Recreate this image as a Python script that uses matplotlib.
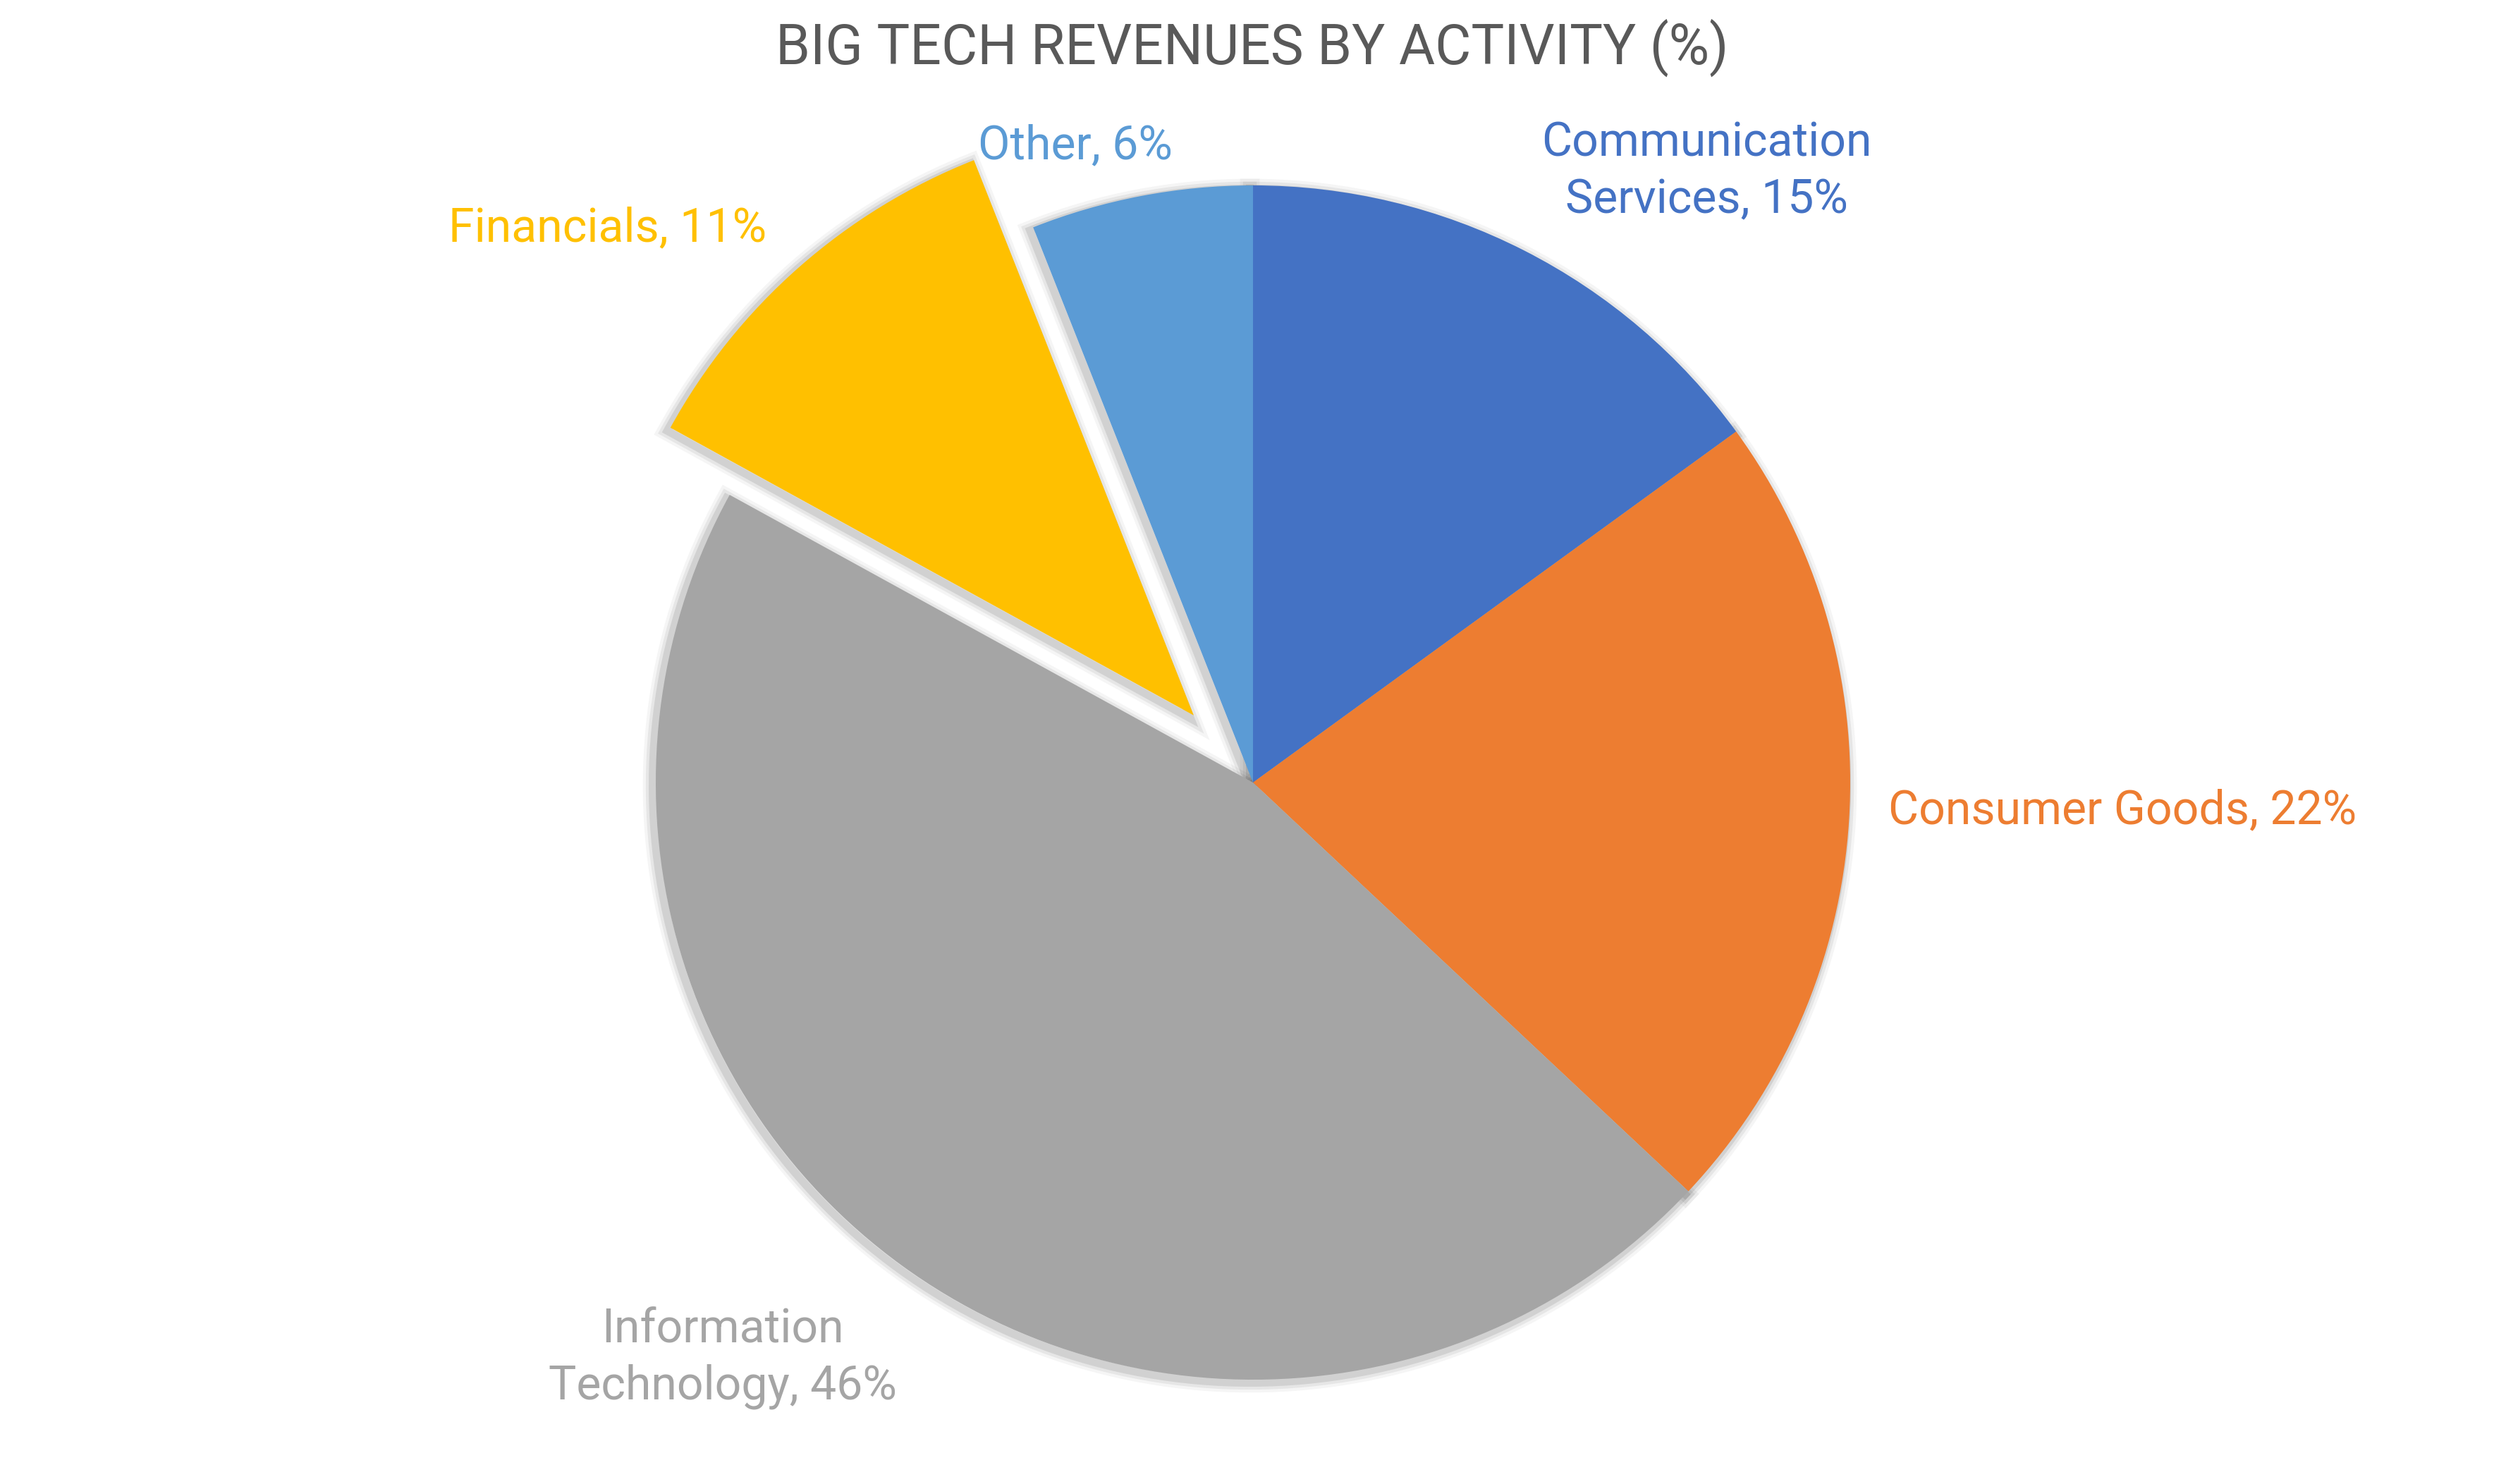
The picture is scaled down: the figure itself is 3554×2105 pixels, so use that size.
import matplotlib
matplotlib.use("Agg")
import matplotlib.pyplot as plt
import matplotlib.patheffects as pe

# 数据
categories = ["Communication\nServices", "Consumer Goods", "Information\nTechnology", "Financials", "Other"]
shares = [15, 22, 46, 11, 6]
colors = ["#4472C4", "#ED7D31", "#A5A5A5", "#FFC000", "#5B9BD5"]
explode = [0, 0, 0, 0.15, 0]

# label anchor (centre x, last-line baseline y), pie radius = 1
label_pos = [(0.760, 0.954), (1.456, -0.0685), (-0.888, -1.033), (-1.081, 0.906), (-0.2975, 1.045)]

plt.rcParams["font.family"] = ["Roboto", "DejaVu Sans"]

W, H, DPI = 3554, 2105, 200
fig = plt.figure(figsize=(W / DPI, H / DPI), dpi=DPI)
ax = fig.add_axes([0, 0, 1, 1])

cx, cy, r = 1777, 1110, 847

# soft shadow behind slices (slightly down-left)
off = (-1.6, -1.6)
shadow_fx = [
    pe.Stroke(linewidth=10, foreground="black", alpha=0.04, offset=off),
    pe.Stroke(linewidth=7, foreground="black", alpha=0.06, offset=off),
    pe.Stroke(linewidth=4, foreground="black", alpha=0.09, offset=off),
]
sh, _ = ax.pie(shares, explode=explode, startangle=90, counterclock=False,
               colors=["none"] * len(shares), wedgeprops=dict(linewidth=0))
for w in sh:
    w.set_edgecolor("black")
    w.set_linewidth(1)
    w.set_path_effects(shadow_fx)
    w.set_zorder(1)

wedges, _ = ax.pie(shares, explode=explode, startangle=90, counterclock=False,
                   colors=colors, wedgeprops=dict(linewidth=0))
for w in wedges:
    w.set_zorder(2)

for cat, val, col, (lx, ly) in zip(categories, shares, colors, label_pos):
    ax.text(lx, ly, f"{cat}, {val}%", color=col, fontsize=23.8,
            ha="center", va="baseline", multialignment="center",
            linespacing=1.33, zorder=3)

ax.set_aspect("auto")
ax.set_xlim(-cx / r, (W - cx) / r)
ax.set_ylim(-(H - cy) / r, cy / r)
ax.axis("off")

fig.text(1776 / W, 1 - 91 / H, "BIG TECH REVENUES BY ACTIVITY (%)", color="#595959",
         fontsize=28.3, ha="center", va="baseline")

fig.savefig("out.png", dpi=DPI, facecolor="white")
